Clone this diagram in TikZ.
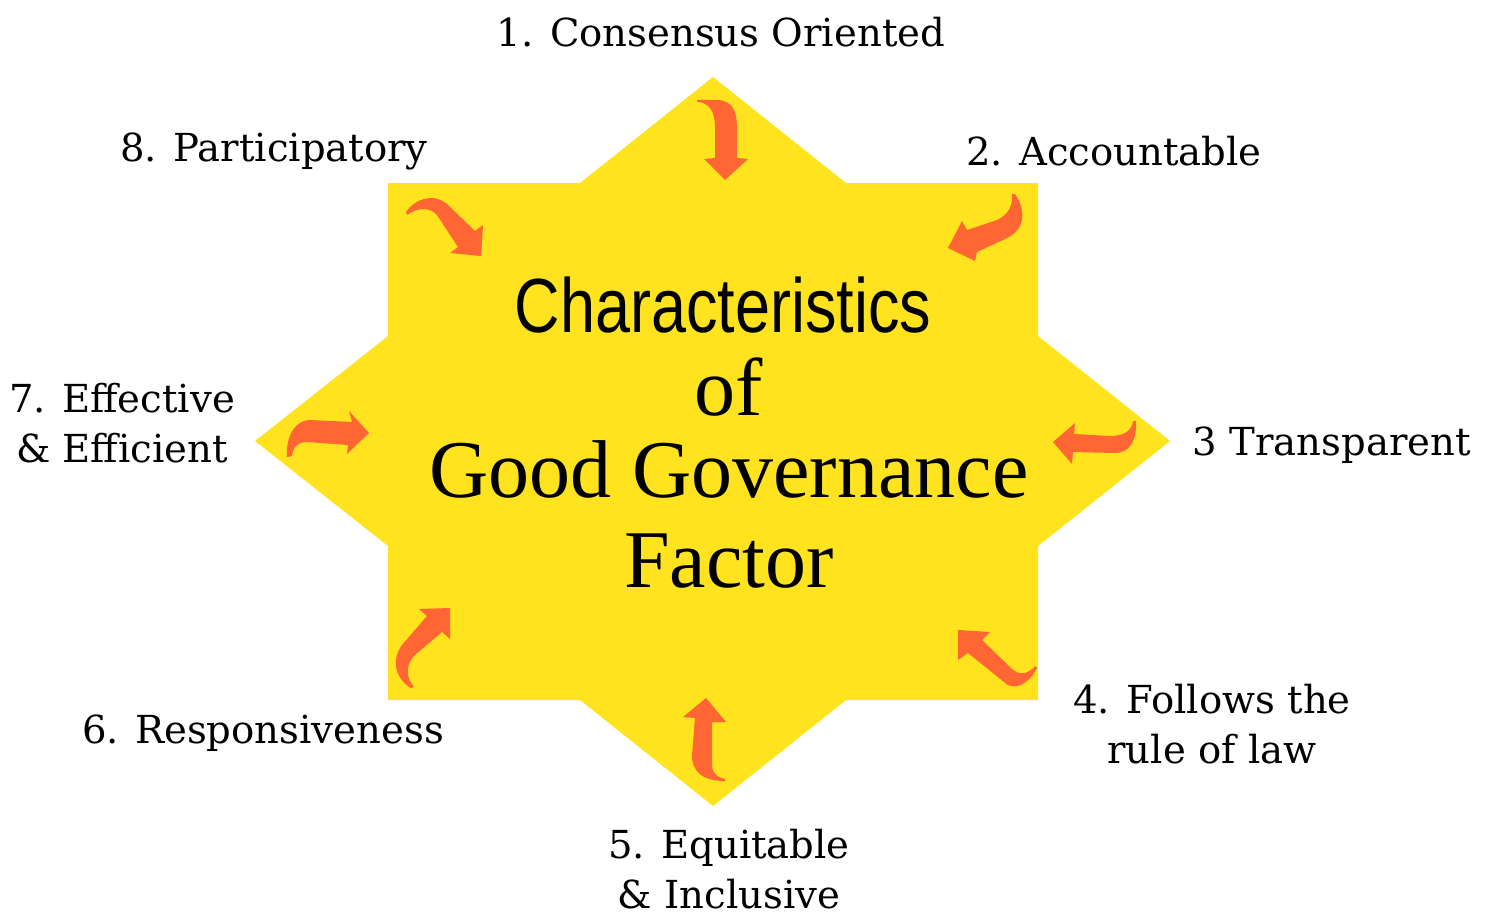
\documentclass[tikz,border=0pt]{standalone}
\usepackage{fontspec}
\setmainfont{DejaVu Serif}
\newfontfamily\titlesans[FakeStretch=0.82]{Liberation Sans}
\newfontfamily\titleserif{Liberation Serif}
\definecolor{staryellow}{HTML}{FFE31E}
\definecolor{arroworange}{HTML}{FF6633}
\begin{document}
\begin{tikzpicture}[x=0.5pt,y=-0.5pt,
  arr/.style={fill=arroworange},
  lbl/.style={font=\fontsize{19.3}{25}\selectfont, inner sep=0pt, align=center},
  ttl/.style={inner sep=0pt, anchor=base}]
\useasboundingbox (0,0) rectangle (1491,915);
% star
\fill[staryellow] (713,77) -- (846,183) -- (1038,183) -- (1038,336) -- (1170,441)
  -- (1038,546) -- (1038,700) -- (846,700) -- (713,806) -- (580,700) -- (388,700)
  -- (388,546) -- (255,441) -- (388,336) -- (388,183) -- (580,183) -- cycle;
% central title
\node[ttl] (t1) at (723,332) {\titlesans\fontsize{38.4}{40}\selectfont Characteristics};
\node[ttl] (t2) at (729,415) {\titleserif\fontsize{41}{44}\selectfont of};
\node[ttl] (t3) at (729,497) {\titleserif\fontsize{41}{44}\selectfont Good Governance};
\node[ttl] (t4) at (729,587) {\titleserif\fontsize{41}{44}\selectfont Factor};
% labels (multi-line nodes: base = baseline of last line)
\node[lbl, anchor=base] (l1) at (721,47) {1. Consensus Oriented};
\node[lbl, anchor=base] (l2) at (1114,165) {2. Accountable};
\node[lbl, anchor=base] (l3) at (1332,455) {3 Transparent};
\node[lbl, anchor=base] (l4) at (1212,763) {4. Follows the\\rule of law};
\node[lbl, anchor=base] (l5) at (729,908) {5. Equitable\\\& Inclusive};
\node[lbl, anchor=base] (l6) at (263,743) {6. Responsiveness};
\node[lbl, anchor=base] (l7) at (122,462) {7. Effective\\\& Efficient};
\node[lbl, anchor=base] (l8) at (274,161) {8. Participatory};
% arrows
\fill[arr] (697,100) -- (718,100) .. controls (733,101) and (737,112) .. (737,128)
  -- (737,158) -- (748,159) -- (725,180) -- (704,159) -- (715,158) -- (715,128)
  .. controls (715,112) and (710,103) .. (697,101.5) -- cycle;
\fill[arr] (1012,194) -- (1015,194) .. controls (1026,210) and (1026,230) .. (1005,239)
  -- (977,252) -- (975,261) -- (948,248) -- (962,221) -- (967,230) -- (997,220)
  .. controls (1008,215) and (1013,206) .. (1012,194) -- cycle;
\fill[arr] (1053,442) -- (1075,423) -- (1074,434) -- (1110,436)
  .. controls (1125,436) and (1132,430) .. (1133,421) -- (1136,421)
  .. controls (1137,440) and (1130,453) .. (1115,453) -- (1073,452) -- (1072,464) -- cycle;
\fill[arr] (958,630) -- (990,632) -- (982,640) -- (1012,669)
  .. controls (1020,676) and (1028,674) .. (1035,666) -- (1037,668)
  .. controls (1030,682) and (1015,693) .. (1004,682) -- (968,653) -- (958,660) -- cycle;
\fill[arr] (706,698) -- (726,722) -- (712,722) -- (712,765)
  .. controls (712,772) and (716,777) .. (725,779) -- (725,781)
  .. controls (703,781) and (692,772) .. (692,755) -- (695,718) -- (683,717) -- cycle;
\fill[arr] (450,608) -- (450,639) -- (442,632) -- (415,655)
  .. controls (405,665) and (406,678) .. (414,687) -- (411,688)
  .. controls (397,680) and (390,662) .. (402,645) -- (427,616) -- (419,609) -- cycle;
\fill[arr] (369,433) -- (347,454) -- (348,445) -- (307,442)
  .. controls (298,442) and (293,447) .. (292,456) -- (287,457)
  .. controls (286,440) and (292,421) .. (310,420) -- (352,422) -- (349,411) -- cycle;
\fill[arr] (481,256) -- (450,253) -- (458,247) -- (437,215)
  .. controls (430,207) and (418,207) .. (407,215) -- (406,212)
  .. controls (414,200) and (432,192) .. (447,204) -- (475,231) -- (483,225) -- cycle;
\end{tikzpicture}
\end{document}
